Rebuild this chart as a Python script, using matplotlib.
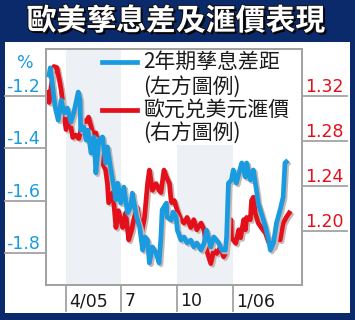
import matplotlib
matplotlib.use("Agg")
import matplotlib.pyplot as plt
import matplotlib.patheffects as pe
import matplotlib.transforms as mtrans
from matplotlib.patches import Rectangle
import pandas as pd

# Data: 2 year yield spread (left axis, %) and EUR/USD (right axis)
spread_dates = ["2005-03-04", "2005-03-06", "2005-03-09", "2005-03-14", "2005-03-19", "2005-03-24",
                "2005-03-29", "2005-04-03", "2005-04-09", "2005-04-14", "2005-04-21", "2005-04-24",
                "2005-04-25", "2005-04-30", "2005-05-04", "2005-05-07", "2005-05-12", "2005-05-17",
                "2005-05-20", "2005-05-25", "2005-05-31", "2005-06-05", "2005-06-08", "2005-06-13",
                "2005-06-18", "2005-06-22", "2005-06-25", "2005-06-30", "2005-07-05", "2005-07-11",
                "2005-07-16", "2005-07-19", "2005-07-26", "2005-07-31", "2005-08-05", "2005-08-09",
                "2005-08-13", "2005-08-16", "2005-08-21", "2005-08-27", "2005-09-01", "2005-09-04",
                "2005-09-06", "2005-09-13", "2005-09-14", "2005-09-21", "2005-09-24", "2005-09-29",
                "2005-10-01", "2005-10-07", "2005-10-12", "2005-10-17", "2005-10-23", "2005-10-28",
                "2005-11-02", "2005-11-09", "2005-11-14", "2005-11-18", "2005-11-25", "2005-11-30",
                "2005-12-08", "2005-12-13", "2005-12-19", "2005-12-21", "2005-12-24", "2005-12-29",
                "2006-01-01", "2006-01-06", "2006-01-13", "2006-01-15", "2006-01-21", "2006-01-23",
                "2006-01-29", "2006-02-03", "2006-02-08", "2006-02-11", "2006-02-16", "2006-02-23",
                "2006-02-28", "2006-03-03", "2006-03-08", "2006-03-13", "2006-03-19", "2006-03-24",
                "2006-03-27", "2006-03-29"]
spread_values = [-1.121, -1.094, -1.148, -1.243, -1.293, -1.216,
                 -1.266, -1.247, -1.300, -1.262, -1.186, -1.216,
                 -1.331, -1.319, -1.369, -1.331, -1.418, -1.357,
                 -1.494, -1.369, -1.357, -1.456, -1.395, -1.472,
                 -1.540, -1.597, -1.533, -1.609, -1.548, -1.647,
                 -1.624, -1.571, -1.662, -1.700, -1.788, -1.738,
                 -1.750, -1.837, -1.776, -1.799, -1.837, -1.738,
                 -1.635, -1.609, -1.662, -1.674, -1.643, -1.662,
                 -1.712, -1.750, -1.738, -1.761, -1.750, -1.776,
                 -1.761, -1.788, -1.761, -1.712, -1.776, -1.738,
                 -1.761, -1.788, -1.788, -1.738, -1.533, -1.521,
                 -1.483, -1.533, -1.472, -1.456, -1.510, -1.456,
                 -1.521, -1.483, -1.559, -1.609, -1.647, -1.700,
                 -1.750, -1.788, -1.761, -1.685, -1.635, -1.586,
                 -1.456, -1.452]

eur_dates = ["2005-03-01", "2005-03-04", "2005-03-08", "2005-03-12", "2005-03-17", "2005-03-21",
             "2005-03-24", "2005-03-29", "2005-04-01", "2005-04-06", "2005-04-12", "2005-04-17",
             "2005-04-22", "2005-04-29", "2005-05-04", "2005-05-08", "2005-05-15", "2005-05-20",
             "2005-05-25", "2005-05-31", "2005-06-05", "2005-06-08", "2005-06-10", "2005-06-17",
             "2005-06-22", "2005-06-26", "2005-07-03", "2005-07-08", "2005-07-13", "2005-07-18",
             "2005-07-22", "2005-07-27", "2005-08-03", "2005-08-08", "2005-08-13", "2005-08-16",
             "2005-08-21", "2005-08-27", "2005-09-01", "2005-09-04", "2005-09-09", "2005-09-13",
             "2005-09-18", "2005-09-21", "2005-09-26", "2005-10-01", "2005-10-07", "2005-10-12",
             "2005-10-17", "2005-10-23", "2005-10-28", "2005-11-02", "2005-11-09", "2005-11-14",
             "2005-11-18", "2005-11-25", "2005-11-30", "2005-12-05", "2005-12-11", "2005-12-16",
             "2005-12-19", "2005-12-21", "2005-12-28", "2005-12-29", "2006-01-05", "2006-01-10",
             "2006-01-13", "2006-01-18", "2006-01-21", "2006-01-23", "2006-01-29", "2006-01-31",
             "2006-02-03", "2006-02-06", "2006-02-11", "2006-02-16", "2006-02-23", "2006-02-28",
             "2006-03-04", "2006-03-08", "2006-03-13", "2006-03-19", "2006-03-24", "2006-03-29",
             "2006-04-03"]
eur_values = [1.323, 1.314, 1.330, 1.346, 1.345, 1.334,
              1.325, 1.301, 1.290, 1.301, 1.283, 1.285,
              1.282, 1.298, 1.297, 1.301, 1.287, 1.287,
              1.272, 1.260, 1.254, 1.242, 1.225, 1.234,
              1.203, 1.218, 1.203, 1.216, 1.192, 1.201,
              1.212, 1.221, 1.198, 1.212, 1.242, 1.254,
              1.236, 1.242, 1.236, 1.234, 1.254, 1.248,
              1.242, 1.225, 1.227, 1.218, 1.210, 1.207,
              1.212, 1.203, 1.210, 1.201, 1.207, 1.201,
              1.183, 1.171, 1.183, 1.180, 1.186, 1.177,
              1.180, 1.189, 1.210, 1.194, 1.189, 1.201,
              1.194, 1.210, 1.201, 1.212, 1.210, 1.227,
              1.230, 1.216, 1.207, 1.203, 1.198, 1.190,
              1.192, 1.186, 1.194, 1.192, 1.207, 1.212,
              1.216]

left_ticks = [-1.2, -1.4, -1.6, -1.8]
left_labels = ["-1.2", "-1.4", "-1.6", "-1.8"]
right_ticks = [1.32, 1.28, 1.24, 1.20]
right_labels = ["1.32", "1.28", "1.24", "1.20"]
x_ticks = ["2005-04-01", "2005-07-01", "2005-10-01", "2006-01-01"]
x_labels = ["4/05", "7", "10", "1/06"]
shaded = [("2005-04-01", "2005-07-01"), ("2005-10-01", "2006-01-01")]

title = "歐美孳息差及滙價表現"
legend_texts = ["2年期孳息差距", "(左方圖例)", "歐元兑美元滙價", "(右方圖例)"]

NAVY = "#0b2a6b"
BLUE = "#1a9be0"
RED = "#e3101c"
GREY = "#a2a2a2"
cjk = ["Noto Sans CJK TC", "DejaVu Sans"]

fig = plt.figure(figsize=(3.55, 3.2), dpi=100)
fig.patch.set_facecolor(NAVY)

# white panel under the navy title band
fig.add_artist(Rectangle((5 / 355, 1 - 313 / 320), 345 / 355, 271 / 320,
                         transform=fig.transFigure, facecolor="white", edgecolor="none", zorder=0))

fig.text(176 / 355, 1 - 21 / 320, title, color="white", fontsize=21.5, fontweight="bold",
         family=cjk, ha="center", va="center",
         path_effects=[pe.withSimplePatchShadow(offset=(1.5, -1.5), shadow_rgbFace="black", alpha=0.9),
                       pe.withStroke(linewidth=1.5, foreground="#111111")])

# ax2 (right scale, red) is the back axes; ax (left scale, blue) sits on top of it
ax2 = fig.add_axes([46 / 355, 35 / 320, 256 / 355, 236 / 320])
ax = ax2.twinx()
ax.yaxis.set_label_position("left")

x_start = pd.Timestamp("2005-02-27")
x_end = pd.Timestamp("2006-04-24")
ax2.set_xlim(x_start, x_end)
ax.set_ylim(-1.921, -1.022)
ax2.set_ylim(1.152, 1.3615)

for a, b in shaded:
    ax2.axvspan(pd.Timestamp(a), pd.Timestamp(b), color="#edf1f5", lw=0, zorder=0)

# white box behind the legend text
ax2.add_patch(Rectangle((0.367, 0.593), 0.6, 0.41, transform=ax2.transAxes,
                        facecolor="white", edgecolor="none", zorder=1))

shadow = [pe.SimpleLineShadow(offset=(1.3, -1.3), shadow_color="#c9b7b3", alpha=1), pe.Normal()]
ax2.plot(pd.to_datetime(eur_dates), eur_values, color=RED, lw=3.4, zorder=3,
         solid_joinstyle="round", path_effects=shadow)
ax.plot(pd.to_datetime(spread_dates), spread_values, color=BLUE, lw=3.4, zorder=3,
        solid_joinstyle="round", path_effects=shadow)

for a in (ax, ax2):
    a.set_xticks([])
    a.set_yticks([])
    for s in a.spines.values():
        s.set_color(GREY)
        s.set_linewidth(1.3)

# left axis labels sit on short lines outside the box
ly = ax.get_yaxis_transform()
for v, lab in zip(left_ticks, left_labels):
    ax.plot([-0.160, 0], [v, v], color=GREY, lw=1.3, transform=ly, clip_on=False)
    ax.text(-0.156, v, lab, color=BLUE, fontsize=12.5, transform=ly,
            ha="left", va="bottom", family="DejaVu Sans")
ax.text(-0.08, 0.94, "%", color=BLUE, fontsize=12.5, transform=ax.transAxes,
        ha="center", va="center", family="DejaVu Sans")

ry = ax2.get_yaxis_transform()
for v, lab in zip(right_ticks, right_labels):
    ax2.plot([1.0, 1.176], [v, v], color=GREY, lw=1.3, transform=ry, clip_on=False)
    ax2.text(1.012, v, lab, color=RED, fontsize=12.5, transform=ry,
             ha="left", va="bottom", family="DejaVu Sans")

# bottom month ticks hang below the box with the label to the right
bx = ax.get_xaxis_transform()
label_shift = mtrans.offset_copy(bx, fig=fig, x=3, y=0, units="dots")
for d, lab in zip(x_ticks, x_labels):
    t = pd.Timestamp(d)
    ax.plot([t, t], [0, -0.11], color=GREY, lw=1.3, transform=bx, clip_on=False)
    ax.text(t, -0.068, lab, color="#1a1a1a", fontsize=12.5, transform=label_shift,
            ha="left", va="center", family="DejaVu Sans")

# legend
ax.plot([0.219, 0.355], [0.945, 0.945], color=BLUE, lw=3.4, transform=ax.transAxes, zorder=4)
ax.plot([0.219, 0.355], [0.742, 0.742], color=RED, lw=3.4, transform=ax.transAxes, zorder=4)
for text, yy in zip(legend_texts, [0.945, 0.839, 0.742, 0.644]):
    ax.text(0.379, yy, text, fontsize=15, family=cjk, color="#1a1a1a",
            transform=ax.transAxes, ha="left", va="center", zorder=5)

fig.savefig("out.png", dpi=100, facecolor=NAVY)
